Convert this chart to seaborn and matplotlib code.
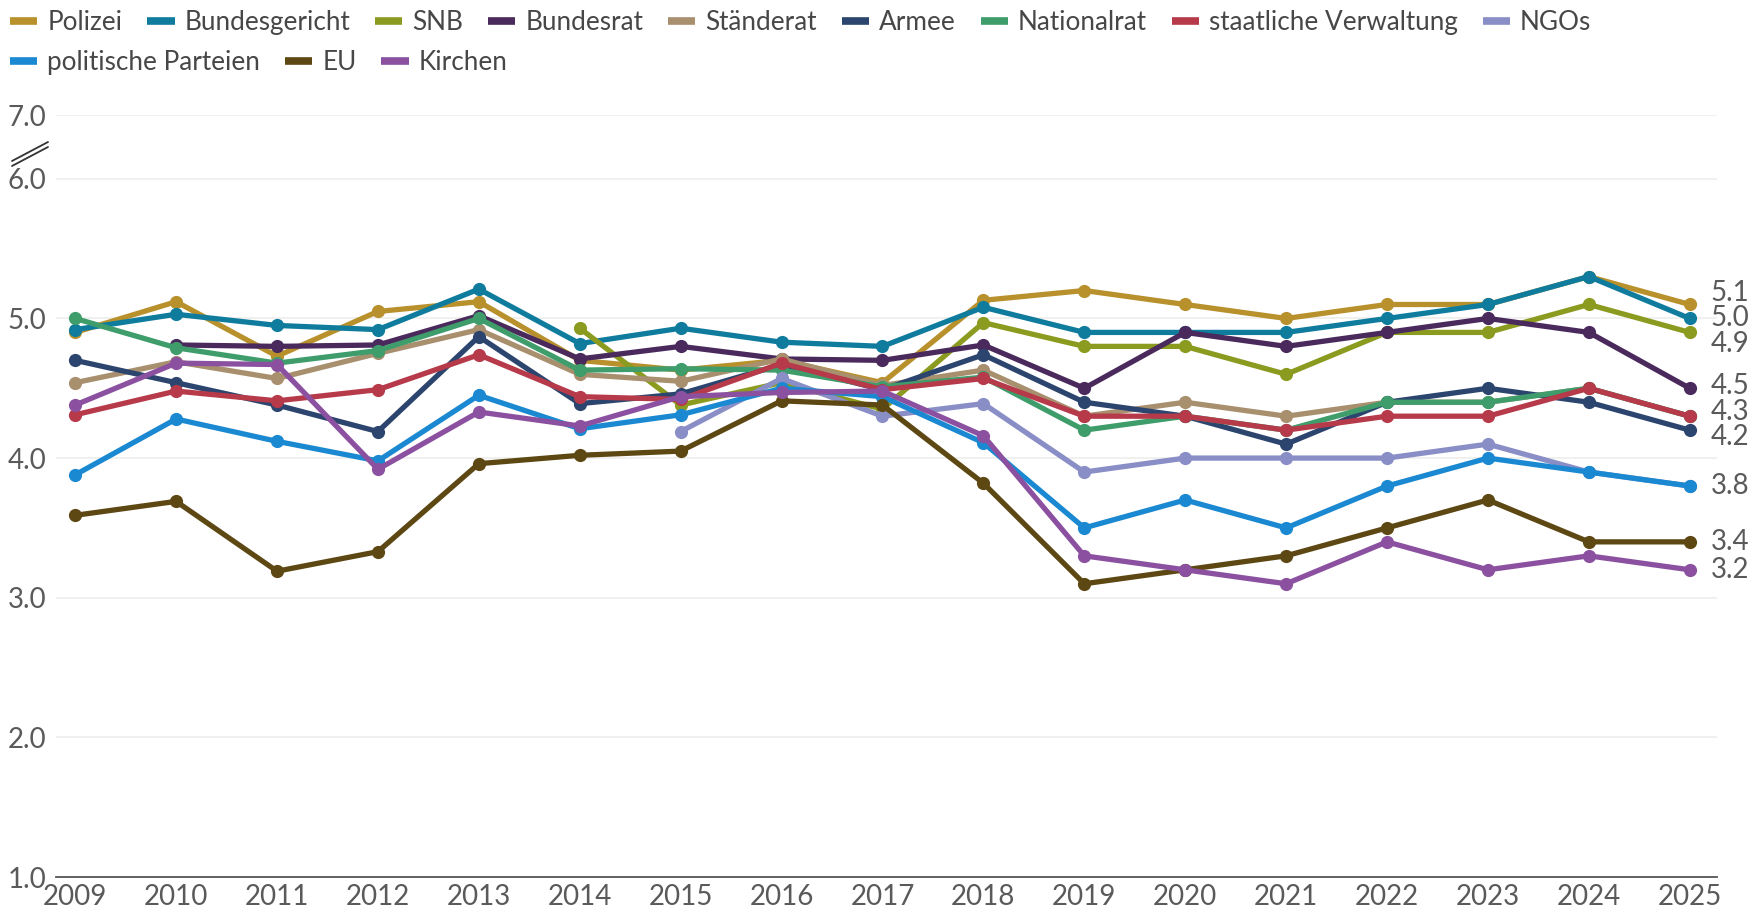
import numpy as np
import pandas as pd
import matplotlib
matplotlib.use('Agg')
import matplotlib.pyplot as plt
from matplotlib.lines import Line2D
import seaborn as sns

nan = np.nan
years = list(range(2009, 2026))

institutions = ['Polizei', 'Bundesgericht', 'SNB', 'Bundesrat', 'Ständerat', 'Armee',
                'Nationalrat', 'staatliche Verwaltung', 'NGOs', 'politische Parteien', 'EU', 'Kirchen']

polizei = [4.90, 5.12, 4.73, 5.05, 5.12, 4.70, 4.63, 4.70, 4.54, 5.13, 5.2, 5.1, 5.0, 5.1, 5.1, 5.3, 5.1]
bundesgericht = [4.92, 5.03, 4.95, 4.92, 5.21, 4.82, 4.93, 4.83, 4.80, 5.08, 4.9, 4.9, 4.9, 5.0, 5.1, 5.3, 5.0]
snb = [nan, nan, nan, nan, nan, 4.93, 4.38, 4.54, 4.35, 4.97, 4.8, 4.8, 4.6, 4.9, 4.9, 5.1, 4.9]
bundesrat = [nan, 4.81, 4.80, 4.81, 5.02, 4.71, 4.80, 4.71, 4.70, 4.81, 4.5, 4.9, 4.8, 4.9, 5.0, 4.9, 4.5]
staenderat = [4.54, 4.69, 4.57, 4.75, 4.92, 4.60, 4.55, 4.71, 4.52, 4.63, 4.3, 4.4, 4.3, 4.4, 4.4, 4.5, 4.3]
armee = [4.70, 4.54, 4.38, 4.19, 4.87, 4.39, 4.46, 4.67, 4.49, 4.74, 4.4, 4.3, 4.1, 4.4, 4.5, 4.4, 4.2]
nationalrat = [5.00, 4.79, 4.68, 4.77, 5.00, 4.63, 4.64, 4.63, 4.51, 4.58, 4.2, 4.3, 4.2, 4.4, 4.4, 4.5, 4.3]
verwaltung = [4.31, 4.48, 4.41, 4.49, 4.74, 4.44, 4.42, 4.68, 4.49, 4.57, 4.3, 4.3, 4.2, 4.3, 4.3, 4.5, 4.3]
ngos = [nan, nan, nan, nan, nan, nan, 4.19, 4.57, 4.30, 4.39, 3.9, 4.0, 4.0, 4.0, 4.1, 3.9, 3.8]
parteien = [3.88, 4.28, 4.12, 3.98, 4.45, 4.21, 4.31, 4.50, 4.44, 4.11, 3.5, 3.7, 3.5, 3.8, 4.0, 3.9, 3.8]
eu = [3.59, 3.69, 3.19, 3.33, 3.96, 4.02, 4.05, 4.41, 4.38, 3.82, 3.1, 3.2, 3.3, 3.5, 3.7, 3.4, 3.4]
kirchen = [4.38, 4.68, 4.67, 3.92, 4.33, 4.23, 4.44, 4.47, 4.48, 4.16, 3.3, 3.2, 3.1, 3.4, 3.2, 3.3, 3.2]

series = [polizei, bundesgericht, snb, bundesrat, staenderat, armee,
          nationalrat, verwaltung, ngos, parteien, eu, kirchen]

colors = ['#b8912c', '#0f7c9e', '#8b9b1f', '#4a2a5c', '#a88f6e', '#2c456e',
          '#3e9d6b', '#b63a4a', '#8a8ec6', '#1a89d2', '#5d4814', '#8b51a0']
palette = dict(zip(institutions, colors))

y_ticks = [1, 2, 3, 4, 5, 6, 7]

df = pd.DataFrame({
    'Jahr': np.tile(years, len(institutions)),
    'Institution': np.repeat(institutions, len(years)),
    'Wert': np.concatenate(series),
}).dropna()

sns.set_style('white')
plt.rcParams['font.family'] = ['Lato', 'DejaVu Sans']
text_grey = '#5a5a5a'
fs = 20

W, H = 1750, 921
fig = plt.figure(figsize=(W / 100, H / 100), dpi=100)
ax = fig.add_axes([56 / W, 1 - 877 / H, (1717 - 56) / W, (877 - 115) / H])

sns.lineplot(data=df, x='Jahr', y='Wert', hue='Institution', hue_order=institutions,
             palette=palette, estimator=None, sort=True, legend=False, ax=ax,
             linewidth=3.8, marker='o', markersize=9.5, markeredgewidth=0)

# broken axis: squeeze the 6-7 segment
k = 0.457


def fwd(y):
    y = np.asarray(y, dtype=float)
    return np.where(y <= 6, y, 6 + (y - 6) * k)


def inv(z):
    z = np.asarray(z, dtype=float)
    return np.where(z <= 6, z, 6 + (z - 6) / k)


ax.set_yscale('function', functions=(fwd, inv))
ax.set_ylim(1, 7)
ax.set_xlim(2008.81, 2025.27)
ax.set_yticks(y_ticks)
ax.set_yticklabels([f'{t:.1f}' for t in y_ticks])
ax.set_xticks(years)
ax.set_xticklabels([str(y) for y in years])
ax.set_xlabel('')
ax.set_ylabel('')

ax.grid(axis='y', color='#eeeeec', linewidth=1.2)
ax.grid(axis='x', visible=False)
for s in ['top', 'right', 'left']:
    ax.spines[s].set_visible(False)
ax.spines['bottom'].set_color('#555555')
ax.spines['bottom'].set_linewidth(1.3)
ax.tick_params(axis='both', length=0, labelsize=fs, labelcolor=text_grey)
ax.tick_params(axis='y', pad=7)
ax.tick_params(axis='x', pad=5)

# break marks on the y axis
for dy in (0, 5):
    fig.add_artist(Line2D([12 / W, 48 / W], [1 - (166 - dy) / H, 1 - (147 - dy) / H],
                          color='#333333', linewidth=1.3))

# end-of-line value labels, spread so they do not overlap
end_vals = sorted({round(s[-1], 1) for s in series}, reverse=True)
pos = list(end_vals)
gap = 0.185
for _ in range(100):
    for i in range(len(pos) - 1):
        d = pos[i] - pos[i + 1]
        if d < gap:
            shift = (gap - d) / 2
            pos[i] += shift
            pos[i + 1] -= shift
for v, p in zip(end_vals, pos):
    ax.annotate(f'{v:.1f}', xy=(years[-1], p), xytext=(15, 0), textcoords='offset points',
                va='center', ha='left', fontsize=fs, color=text_grey,
                annotation_clip=False)

# legend in two rows
handles = [Line2D([0], [0], color=palette[n], linewidth=5.5, solid_capstyle='butt')
           for n in institutions]
leg_kw = dict(frameon=False, loc='upper left', fontsize=18.8, handlelength=1.05,
              handletextpad=0.38, columnspacing=0.95, borderaxespad=0, borderpad=0,
              labelcolor='#474747')
fig.legend(handles[:9], institutions[:9], ncol=9,
           bbox_to_anchor=(10 / W, 1 - 10 / H), **leg_kw)
fig.legend(handles[9:], institutions[9:], ncol=3,
           bbox_to_anchor=(10 / W, 1 - 50 / H), **leg_kw)

fig.savefig('out.png', dpi=100)
plt.close(fig)
